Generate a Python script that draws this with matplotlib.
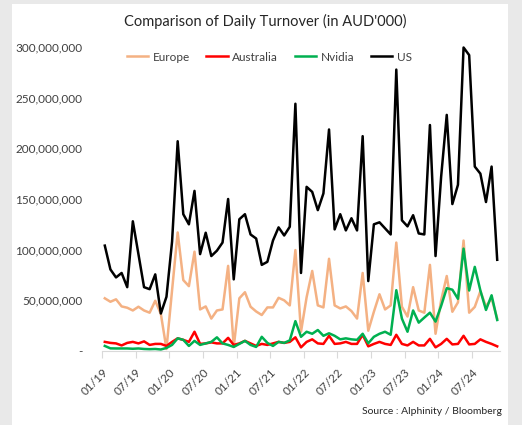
import numpy as np
import matplotlib
matplotlib.use("Agg")
import matplotlib.pyplot as plt
from matplotlib.ticker import FuncFormatter
from matplotlib.patches import Rectangle

plt.rcParams['font.family'] = ['Lato', 'DejaVu Sans']

# monthly, 01/19 .. 11/24, values in AUD'000 (millions of thousands)
europe = [52, 48.6, 51, 44, 42.7, 40, 43.7, 40, 37.8, 49.6, 36.5, 2,
          60, 117, 70, 64, 98, 41, 44, 32, 40, 41, 84, 4,
          52, 58, 43.7, 39, 35.5, 43, 43, 52.5, 50, 45, 99.6, 19,
          53, 79, 45, 43, 91, 45, 42, 44, 39.4, 32, 77, 20,
          38.7, 56, 41, 45, 107, 43.7, 34, 63, 40, 37.8, 85, 17,
          50, 74, 38.7, 48, 109, 37.8, 43.5, 59, 44, 52, 32]
australia = [9, 8, 7.5, 5.5, 8, 9, 7.5, 9.5, 6, 7, 7, 5,
             9, 12.5, 11, 9, 19, 7, 7.5, 8.5, 7.5, 7.5, 13, 6,
             7.5, 10, 7.5, 5, 7, 6, 7.5, 9, 8, 9, 13.5, 3.6,
             9, 11.5, 7.5, 7, 15, 7, 7.5, 9, 7, 7, 16, 4.6,
             7, 9, 7, 6, 16, 7, 5.5, 9, 5.5, 5.5, 12, 3.6,
             7, 12, 6.5, 7, 15, 6.5, 7, 11.5, 9, 7, 4.6]
nvidia = [5, 2.6, 2.5, 2.5, 2.5, 2.2, 2.5, 2, 1.8, 2, 1.5, 3,
          6, 12.5, 11, 5, 10, 6, 7.5, 9, 13.5, 7.5, 6, 4,
          7, 10, 6, 4, 14, 8, 5, 9, 8, 10.5, 29.5, 14,
          19, 17, 20.7, 15, 17.5, 15, 11.5, 12.5, 11.5, 11, 17, 7.6,
          14, 17, 19, 16, 60, 32, 19, 40, 28, 33, 37.8, 29,
          44.5, 62, 60.5, 51.5, 101, 59.7, 83, 59.7, 40.5, 55, 30.6]
us = [104, 80.5, 72.6, 77, 63, 128, 95.6, 63, 61, 75.6, 37, 53.5,
      108, 207, 135, 125, 158, 95.6, 116.7, 93.7, 99, 107, 150, 70.7,
      130, 135, 115, 111, 85, 88, 109, 122, 114, 122.6, 244, 77,
      162, 157, 139, 155.5, 218.6, 120, 135, 119, 131, 119, 212, 69,
      125, 127, 121, 115, 277.7, 129, 123, 134, 116, 115, 223, 93.7,
      172, 233, 145, 164, 299.5, 292, 182, 175, 147, 182, 90]
tick_labels = ['01/19', '07/19', '01/20', '07/20', '01/21', '07/21',
               '01/22', '07/22', '01/23', '07/23', '01/24', '07/24']

scale = 1e6
x = np.arange(len(us))

fig = plt.figure(figsize=(5.22, 4.25), dpi=100, facecolor='#e9e9e9')
fig.patches.append(Rectangle((12/522, 0), (508-12)/522, 1 - 4/425,
                             transform=fig.transFigure, facecolor='white',
                             edgecolor='none', zorder=-5))
ax = fig.add_axes([102/522, 1 - 351/425, 398/522, 304/425])
ax.set_facecolor('none')

lw = 1.8
ax.plot(x, np.array(europe)*scale, color='#F4B183', lw=lw, label='Europe', clip_on=False)
ax.plot(x, np.array(australia)*scale, color='#FF0000', lw=lw, label='Australia', clip_on=False)
ax.plot(x, np.array(nvidia)*scale, color='#00B050', lw=lw, label='Nvidia', clip_on=False)
ax.plot(x, np.array(us)*scale, color='black', lw=lw, label='US', clip_on=False)

ax.set_xlim(-0.5, len(us) - 0.5)
ax.set_ylim(0, 300e6)
ax.set_yticks(np.arange(0, 300e6 + 1, 50e6))
ax.yaxis.set_major_formatter(FuncFormatter(lambda v, p: '-' if v == 0 else f'{v:,.0f}'))

ticks = np.arange(0, len(us), 6) - 0.5
ax.set_xticks(ticks)
ax.set_xticklabels(tick_labels, rotation=45, ha='right', va='top',
                   rotation_mode='anchor', fontsize=8.5, color='#404040')
ax.tick_params(axis='x', length=5, color='#d9d9d9', pad=6)
ax.tick_params(axis='y', length=0, labelsize=8.5, labelcolor='#404040', pad=14)

for s in ['top', 'right', 'left']:
    ax.spines[s].set_visible(False)
ax.spines['bottom'].set_color('#d9d9d9')

fig.text(265/522, 1 - 21/425, "Comparison of Daily Turnover (in AUD'000)",
         ha='center', va='center', fontsize=10.5, color='#262626')
ax.legend(loc='upper center', bbox_to_anchor=(0.42, 1.02), ncol=4, frameon=False,
          fontsize=8.5, handlelength=1.8, handletextpad=0.4, columnspacing=1.4,
          labelcolor='#404040')
fig.text(502/522, 1 - 411/425, 'Source : Alphinity / Bloomberg', ha='right',
         va='center', fontsize=7.5, color='#262626')

fig.savefig('out.png', dpi=100, facecolor=fig.get_facecolor())
